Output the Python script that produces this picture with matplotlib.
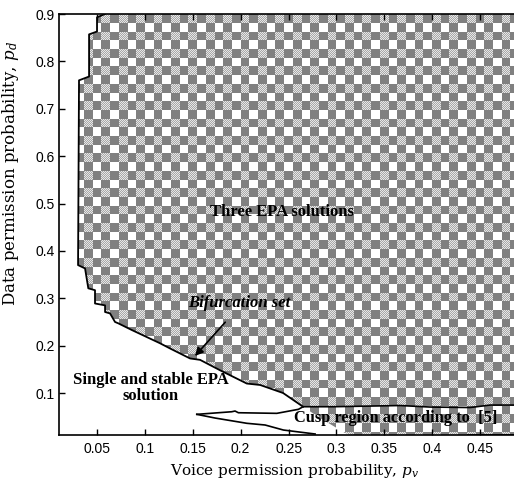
import numpy as np
import matplotlib
matplotlib.use("Agg")
import matplotlib.pyplot as plt
from matplotlib.patches import Polygon

# boundary of the three-solution region: staircase on the left, then the bifurcation set
bif_x = [0.0584, 0.0500, 0.0500, 0.0417, 0.0417, 0.0312, 0.0302, 0.0375, 0.0409, 0.0479,
         0.0479, 0.0584, 0.0584, 0.0636, 0.0688, 0.0723, 0.0863, 0.1158, 0.1263, 0.1471,
         0.1576, 0.1785, 0.2064, 0.2203, 0.2443, 0.2652]
bif_y = [0.900, 0.893, 0.863, 0.857, 0.768, 0.760, 0.370, 0.363, 0.321, 0.317,
         0.289, 0.285, 0.271, 0.268, 0.250, 0.247, 0.233, 0.205, 0.194, 0.173,
         0.170, 0.148, 0.120, 0.117, 0.100, 0.071]
# where the shaded region runs out below the cusp line
tail_x = [0.2829, 0.3090, 0.3150]
tail_y = [0.0472, 0.0156, 0.0114]

# cusp region edges
cusp_up_x = [0.1542, 0.1907, 0.1941, 0.1976, 0.2377, 0.2603, 0.2652, 0.2965, 0.3665,
             0.3978, 0.4396, 0.4605, 0.5]
cusp_up_y = [0.0550, 0.0605, 0.0620, 0.0584, 0.0571, 0.0656, 0.0711, 0.0711, 0.0736,
             0.0704, 0.0694, 0.0746, 0.0746]
cusp_lo_x = [0.1542, 0.1733, 0.2064, 0.2255, 0.2446, 0.2777]
cusp_lo_y = [0.0550, 0.0472, 0.0361, 0.0325, 0.0219, 0.0135]
cusp_end_x = [0.4375, 0.5]
cusp_end_y = [0.0115, 0.0115]

xticks = [0.05, 0.1, 0.15, 0.2, 0.25, 0.3, 0.35, 0.4, 0.45]
yticks = [0.1, 0.2, 0.3, 0.4, 0.5, 0.6, 0.7, 0.8, 0.9]
xlims = (0.0103, 0.5)
ylims = (0.0114, 0.9)

plt.rcParams['mathtext.fontset'] = 'dejavuserif'

fig = plt.figure(figsize=(5.14, 4.83), dpi=100)
ax = fig.add_axes([59/514, 48/483, 469/514, 421/483])
ax.set_xlim(xlims)
ax.set_ylim(ylims)

# checkered fill, one image pixel per screen pixel
h, w = 421, 469
rr, cc = np.mgrid[0:h, 0:w]
cell = 8.7
cx = (np.floor((cc + 1.5) / cell) % 2).astype(int)
cy = (np.floor((rr + 0.25) / cell) % 2).astype(int)
img = np.full((h, w), 0.50)
img[(cx == 0) & (cy == 1)] = 1.0
dith = (cx == 1) & (cy == 0)
img[dith] = np.where((rr[dith] + cc[dith]) % 2 == 0, 0.66, 0.90)

reg_x = bif_x + tail_x + [0.5, 0.5]
reg_y = bif_y + tail_y + [0.0114, 0.9]
poly = Polygon(np.column_stack([reg_x, reg_y]), closed=True, facecolor='none', edgecolor='none')
ax.add_patch(poly)
im = ax.imshow(img, cmap='gray', vmin=0, vmax=1, extent=[xlims[0], xlims[1], ylims[0], ylims[1]],
               aspect='auto', interpolation='nearest', origin='upper', zorder=1)
im.set_clip_path(poly)

ax.plot(bif_x, bif_y, color='k', lw=1.3, zorder=3)
ax.plot(cusp_up_x, cusp_up_y, color='k', lw=1.2, zorder=3)
ax.plot(cusp_lo_x, cusp_lo_y, color='k', lw=1.2, zorder=3)
ax.plot(cusp_end_x, cusp_end_y, color='k', lw=1.5, zorder=3)

serif = 'Liberation Serif'
ax.text(0.2433, 0.4817, 'Three EPA solutions', family=serif, weight='bold', fontsize=12,
        ha='center', va='center', zorder=4)
ax.text(0.1983, 0.2897, 'Bifurcation set', family=serif, weight='bold', style='italic',
        fontsize=12, ha='center', va='center', zorder=4)
ax.text(0.1064, 0.1105, 'Single and stable EPA\nsolution', family=serif, weight='bold',
        fontsize=12, ha='center', va='center', linespacing=1.0, zorder=4)
ax.text(0.2557, 0.0472, 'Cusp region according to  [5]', family=serif, weight='bold',
        fontsize=11.8, ha='left', va='center', zorder=4)
ax.annotate('', xy=(0.1503, 0.1737), xytext=(0.1858, 0.2538),
            arrowprops=dict(arrowstyle='-|>', color='k', lw=1.2, mutation_scale=12), zorder=4)

ax.set_xticks(xticks)
ax.set_yticks(yticks)
ax.set_xticklabels([f'{t:g}' for t in xticks])
ax.set_yticklabels([f'{t:g}' for t in yticks])
ax.tick_params(direction='in', top=True, right=True, length=4, width=1, labelsize=10, pad=5)
for lab in ax.get_xticklabels() + ax.get_yticklabels():
    lab.set_family('Liberation Sans')
ax.tick_params(axis='y', pad=3)
for s in ax.spines.values():
    s.set_linewidth(1.2)

ax.set_xlabel('Voice permission probability, $p_v$', family='DejaVu Serif', fontsize=11)
ax.set_ylabel('Data permission probability, $p_d$', family='DejaVu Serif', fontsize=12)
ax.xaxis.set_label_coords(0.503, -0.064)
ax.yaxis.set_label_coords(-0.081, 0.62)

fig.savefig('out.png', dpi=100)
